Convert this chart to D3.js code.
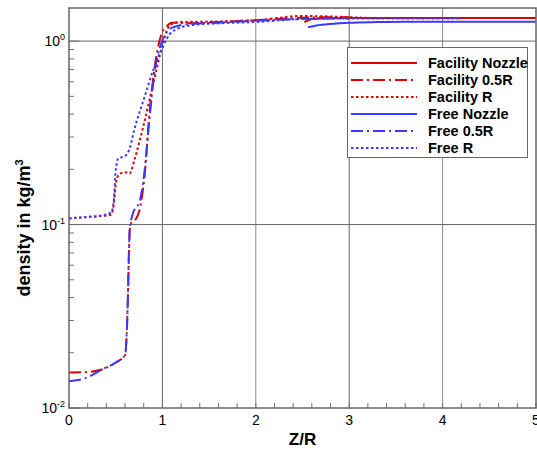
<!DOCTYPE html>
<html>
<head>
<meta charset="utf-8">
<script src="https://cdn.jsdelivr.net/npm/d3@7"></script>
<style>
    body { margin: 0; background: #fff; }
    svg { font-family: "Liberation Sans", Arial, sans-serif; }
</style>
</head>
<body>
<div id="chart"></div>
<script>
// Z/R and density (kg/m^3)
var facNozzleX = [2.52, 2.56, 2.62, 2.7, 2.85, 3.0, 3.5, 4.0, 4.5, 5.0];
var facNozzleY = [1.27, 1.30, 1.32, 1.33, 1.335, 1.335, 1.335, 1.335, 1.335, 1.335];

var fac05X = [0, 0.2, 0.35, 0.5, 0.6, 0.62, 0.63, 0.64, 0.65, 0.67, 0.72, 0.76, 0.81, 0.86, 0.92, 0.97, 1.0, 1.05, 1.1, 1.3, 1.6, 2.0, 2.5, 2.8, 3.0];
var fac05Y = [0.0156, 0.0157, 0.0162, 0.0177, 0.0194, 0.027, 0.039, 0.064, 0.093, 0.103, 0.108, 0.123, 0.186, 0.395, 0.74, 1.01, 1.12, 1.21, 1.26, 1.25, 1.27, 1.30, 1.34, 1.35, 1.35];

var facRX = [0, 0.2, 0.4, 0.45, 0.48, 0.5, 0.53, 0.6, 0.65, 0.7, 0.8, 0.9, 1.0, 1.05, 1.1, 1.2, 1.6, 2.0, 2.5, 3.0, 3.3];
var facRY = [0.108, 0.110, 0.112, 0.113, 0.13, 0.164, 0.186, 0.193, 0.19, 0.225, 0.35, 0.58, 0.95, 1.15, 1.24, 1.27, 1.28, 1.30, 1.37, 1.35, 1.33];

var freeNozzleX = [2.56, 2.65, 2.8, 3.0, 3.3, 3.6, 4.0, 4.5, 5.0];
var freeNozzleY = [1.19, 1.215, 1.24, 1.26, 1.27, 1.275, 1.275, 1.275, 1.275];

var free05X = [0, 0.1, 0.2, 0.35, 0.5, 0.6, 0.62, 0.63, 0.64, 0.65, 0.68, 0.76, 0.81, 0.86, 0.92, 0.97, 1.0, 1.1, 1.3, 1.6, 2.0, 2.5, 2.8, 3.0];
var free05Y = [0.0140, 0.0142, 0.0147, 0.0162, 0.0177, 0.0194, 0.027, 0.039, 0.064, 0.093, 0.113, 0.136, 0.198, 0.37, 0.695, 0.915, 1.01, 1.18, 1.24, 1.26, 1.29, 1.32, 1.33, 1.33];

var freeRX = [0, 0.2, 0.3, 0.45, 0.48, 0.5, 0.53, 0.6, 0.65, 0.7, 0.8, 0.9, 1.0, 1.1, 1.3, 1.6, 2.0, 2.5, 3.0, 3.5, 4.2];
var freeRY = [0.108, 0.110, 0.111, 0.116, 0.136, 0.198, 0.23, 0.236, 0.26, 0.33, 0.48, 0.69, 0.92, 1.12, 1.22, 1.25, 1.27, 1.32, 1.33, 1.33, 1.33];

var seriesNames = ["Facility Nozzle", "Facility 0.5R", "Facility R", "Free Nozzle", "Free 0.5R", "Free R"];
var seriesColors = ["#dd0000", "#dd0000", "#dd0000", "#3a3aff", "#3a3aff", "#3a3aff"];
var seriesDash = [null, "12,4,2,4", "2.5,2.5", null, "12,4,2,4", "2.5,2.5"];
var seriesX = [facNozzleX, fac05X, facRX, freeNozzleX, free05X, freeRX];
var seriesY = [facNozzleY, fac05Y, facRY, freeNozzleY, free05Y, freeRY];

var xTicks = [0, 1, 2, 3, 4, 5];
var yTicks = [0.01, 0.1, 1];
var yTickExp = ["-2", "-1", "0"];

var width = 537;
var height = 450;
var pLeft = 69, pRight = 536, pTop = 8, pBottom = 408;

var x = d3.scaleLinear().domain([0, 5]).range([pLeft, pRight]);
var y = d3.scaleLog().domain([0.01, 1.515]).range([pBottom, pTop]);

var svg = d3.select("#chart").append("svg")
    .attr("width", width)
    .attr("height", height);

// grid
var grid = svg.append("g");
grid.selectAll(".gx")
    .data(xTicks.slice(1, -1))
    .enter()
    .append("line")
    .attr("x1", function (d) { return x(d); })
    .attr("x2", function (d) { return x(d); })
    .attr("y1", pTop)
    .attr("y2", pBottom)
    .style("stroke", function (d) { return d % 2 == 0 ? "#8a8a8a" : "#666"; })
    .style("stroke-width", 1);
grid.selectAll(".gy")
    .data(yTicks.slice(1))
    .enter()
    .append("line")
    .attr("x1", pLeft)
    .attr("x2", pRight)
    .attr("y1", function (d) { return y(d); })
    .attr("y2", function (d) { return y(d); })
    .style("stroke", "#666")
    .style("stroke-width", 1);

// minor ticks
var minorX = d3.range(0, 5.001, 0.2);
svg.append("g").selectAll("line")
    .data(minorX)
    .enter()
    .append("line")
    .attr("x1", function (d) { return x(d); })
    .attr("x2", function (d) { return x(d); })
    .attr("y1", pBottom)
    .attr("y2", pBottom - 5)
    .style("stroke", "#707070");

var minorY = [];
[0.01, 0.1, 1].forEach(function (b) {
    for (var k = 2; k <= 9; k++) {
        if (b * k <= 1.515) minorY.push(b * k);
    }
});
svg.append("g").selectAll("line")
    .data(minorY)
    .enter()
    .append("line")
    .attr("x1", pLeft)
    .attr("x2", pLeft + 5)
    .attr("y1", function (d) { return y(d); })
    .attr("y2", function (d) { return y(d); })
    .style("stroke", "#707070");
svg.append("g").selectAll("line")
    .data(yTicks)
    .enter()
    .append("line")
    .attr("x1", pLeft)
    .attr("x2", pLeft + 10)
    .attr("y1", function (d) { return y(d); })
    .attr("y2", function (d) { return y(d); })
    .style("stroke", "#707070");

// curves
var line = d3.line()
    .x(function (d) { return x(d[0]); })
    .y(function (d) { return y(d[1]); })
    .curve(d3.curveMonotoneX);

var layerLines = svg.append("g");
seriesNames.forEach(function (name, i) {
    var pts = seriesX[i].map(function (v, j) { return [v, seriesY[i][j]]; });
    layerLines.append("path")
        .attr("d", line(pts))
        .style("fill", "none")
        .style("stroke", seriesColors[i])
        .style("stroke-width", 2)
        .style("stroke-dasharray", seriesDash[i]);
});

// frame
svg.append("rect")
    .attr("x", pLeft)
    .attr("y", pTop)
    .attr("width", pRight - pLeft)
    .attr("height", pBottom - pTop)
    .style("fill", "none")
    .style("stroke", "#666")
    .style("stroke-width", 1.5);

// tick labels
svg.append("g").selectAll("text")
    .data(xTicks)
    .enter()
    .append("text")
    .attr("x", function (d) { return x(d); })
    .attr("y", 425)
    .attr("text-anchor", "middle")
    .style("font-size", "14px")
    .style("fill", "#000")
    .text(function (d) { return d; });

var yLab = svg.append("g").selectAll("text")
    .data(yTicks)
    .enter()
    .append("text")
    .attr("x", 65)
    .attr("y", function (d) { return y(d) + 5; })
    .attr("text-anchor", "end")
    .style("font-size", "14px")
    .style("fill", "#000");
yLab.append("tspan").text("10");
yLab.append("tspan")
    .attr("dy", -6)
    .style("font-size", "9px")
    .text(function (d, i) { return yTickExp[i]; });

// axis titles
svg.append("text")
    .attr("x", (pLeft + pRight) / 2)
    .attr("y", 445)
    .attr("text-anchor", "middle")
    .style("font-size", "17px")
    .style("font-weight", "bold")
    .text("Z/R");

var yTitle = svg.append("text")
    .attr("transform", "translate(30," + 228 + ") rotate(-90)")
    .attr("text-anchor", "middle")
    .style("font-size", "18px")
    .style("font-weight", "bold");
yTitle.append("tspan").text("density in kg/m");
yTitle.append("tspan").attr("dy", -7).style("font-size", "11px").text("3");

// legend
var legend = svg.append("g");
legend.append("rect")
    .attr("x", 347.5)
    .attr("y", 47.5)
    .attr("width", 180)
    .attr("height", 110)
    .style("fill", "#fff")
    .style("stroke", "#666")
    .style("stroke-width", 1);
seriesNames.forEach(function (name, i) {
    var ly = 63 + i * 17;
    legend.append("line")
        .attr("x1", 351)
        .attr("x2", 417)
        .attr("y1", ly)
        .attr("y2", ly)
        .style("stroke", seriesColors[i])
        .style("stroke-width", 2)
        .style("stroke-dasharray", seriesDash[i]);
    legend.append("text")
        .attr("x", 428)
        .attr("y", ly + 5)
        .style("font-size", "14.5px")
        .style("font-weight", "bold")
        .text(name);
});
</script>
</body>
</html>
